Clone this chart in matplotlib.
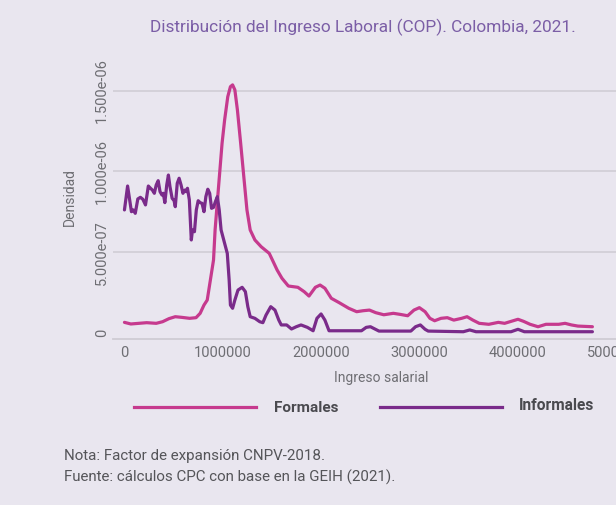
import matplotlib
matplotlib.use("Agg")
import matplotlib.pyplot as plt
from matplotlib.lines import Line2D

# income (millions of COP) and density (x1e-6)
inf_x = [0.0, 0.032, 0.071, 0.090, 0.110, 0.136, 0.162, 0.187, 0.214, 0.243, 0.265, 0.284,
         0.304, 0.323, 0.343, 0.362, 0.382, 0.395, 0.411, 0.430, 0.447, 0.463, 0.485, 0.505,
         0.517, 0.537, 0.556, 0.576, 0.595, 0.615, 0.628, 0.641, 0.660, 0.680, 0.692, 0.712,
         0.731, 0.750, 0.770, 0.789, 0.809, 0.828, 0.848, 0.867, 0.886, 0.906, 0.925, 0.945,
         0.964, 0.983, 1.019, 1.046, 1.065, 1.078, 1.100, 1.123, 1.155, 1.197, 1.230, 1.255,
         1.279, 1.327, 1.376, 1.408, 1.440, 1.488, 1.531, 1.570, 1.595, 1.650, 1.699, 1.748,
         1.796, 1.861, 1.919, 1.958, 2.000, 2.039, 2.081, 2.411, 2.459, 2.502, 2.547, 2.589,
         2.913, 2.961, 3.010, 3.058, 3.090, 3.447, 3.512, 3.576, 3.932, 4.003, 4.068, 4.760]
inf_y = [0.762, 0.910, 0.751, 0.762, 0.741, 0.830, 0.840, 0.828, 0.793, 0.910, 0.896, 0.885,
         0.865, 0.916, 0.943, 0.875, 0.854, 0.865, 0.807, 0.916, 0.978, 0.906, 0.834, 0.819,
         0.782, 0.927, 0.958, 0.916, 0.865, 0.885, 0.875, 0.896, 0.824, 0.576, 0.638, 0.627,
         0.762, 0.819, 0.807, 0.803, 0.751, 0.844, 0.890, 0.865, 0.772, 0.778, 0.813, 0.844,
         0.762, 0.638, 0.555, 0.493, 0.328, 0.173, 0.153, 0.204, 0.266, 0.283, 0.256, 0.163,
         0.101, 0.091, 0.070, 0.064, 0.111, 0.163, 0.142, 0.080, 0.050, 0.050, 0.025, 0.039,
         0.050, 0.035, 0.014, 0.091, 0.118, 0.080, 0.014, 0.014, 0.035, 0.039, 0.025, 0.012,
         0.012, 0.039, 0.050, 0.023, 0.012, 0.008, 0.019, 0.008, 0.008, 0.023, 0.008, 0.008]

for_x = [0.0, 0.065, 0.146, 0.226, 0.323, 0.388, 0.453, 0.517, 0.583, 0.663, 0.728, 0.770,
         0.809, 0.842, 0.874, 0.906, 0.922, 0.949, 0.971, 0.993, 1.019, 1.051, 1.078, 1.100,
         1.123, 1.149, 1.182, 1.214, 1.246, 1.279, 1.327, 1.391, 1.473, 1.505, 1.553, 1.602,
         1.667, 1.764, 1.828, 1.877, 1.942, 1.990, 2.039, 2.104, 2.184, 2.282, 2.362, 2.427,
         2.492, 2.556, 2.638, 2.735, 2.799, 2.881, 2.945, 3.000, 3.058, 3.107, 3.155, 3.220,
         3.284, 3.350, 3.430, 3.485, 3.544, 3.609, 3.706, 3.803, 3.867, 3.932, 4.003, 4.061,
         4.126, 4.207, 4.288, 4.352, 4.417, 4.482, 4.547, 4.612, 4.760]
for_y = [0.066, 0.056, 0.060, 0.064, 0.060, 0.070, 0.089, 0.101, 0.097, 0.091, 0.095, 0.122,
         0.173, 0.204, 0.328, 0.452, 0.638, 0.844, 1.009, 1.175, 1.319, 1.463, 1.525, 1.536,
         1.505, 1.381, 1.175, 0.968, 0.762, 0.638, 0.576, 0.534, 0.493, 0.452, 0.390, 0.339,
         0.291, 0.283, 0.256, 0.229, 0.283, 0.297, 0.277, 0.215, 0.188, 0.153, 0.132, 0.138,
         0.142, 0.126, 0.113, 0.122, 0.116, 0.107, 0.142, 0.157, 0.132, 0.091, 0.076, 0.091,
         0.095, 0.080, 0.091, 0.101, 0.080, 0.060, 0.054, 0.066, 0.060, 0.072, 0.085, 0.072,
         0.054, 0.039, 0.054, 0.054, 0.054, 0.060, 0.050, 0.043, 0.039]

x_ticks = [0, 1000000, 2000000, 3000000, 4000000, 5000000]
y_ticks = [0, 5e-7, 1e-6, 1.5e-6]

title = "Distribución del Ingreso Laboral (COP). Colombia, 2021."
nota = "Nota: Factor de expansión CNPV-2018."
fuente = "Fuente: cálculos CPC con base en la GEIH (2021)."

plt.rcParams["font.family"] = ["Roboto", "DejaVu Sans"]

bg = "#E9E6EF"
c_for = "#C63A8E"
c_inf = "#7A2B8A"
grey = "#6E6E73"

fig = plt.figure(figsize=(6.16, 5.05), dpi=100, facecolor=bg)
ax = fig.add_axes([113/616, 1-339/505, 1-113/616, (339-55)/505], facecolor=bg)

ax.plot([v*1e6 for v in for_x], [v*1e-6 for v in for_y], color=c_for, lw=2.3,
        solid_joinstyle="round", solid_capstyle="round", zorder=3)
ax.plot([v*1e6 for v in inf_x], [v*1e-6 for v in inf_y], color=c_inf, lw=2.3,
        solid_joinstyle="round", solid_capstyle="round", zorder=4)

ax.set_xlim(-0.1165e6, 4.767e6)
ax.set_ylim(-0.037e-6, 1.721e-6)
for s in ["top", "right", "left"]:
    ax.spines[s].set_visible(False)
ax.spines["bottom"].set_color("#CFCCD4")
ax.spines["bottom"].set_linewidth(1.3)
for v in y_ticks[1:]:
    ax.axhline(v, color="#D2CFD7", lw=1.3, zorder=1)

ax.set_xticks(x_ticks)
ax.set_xticklabels([str(v) for v in x_ticks])
ax.set_yticks(y_ticks)
ax.set_yticklabels(["0" if v == 0 else f"{v:.3e}" for v in y_ticks], rotation=90, va="center")
ax.tick_params(length=0, colors=grey, labelsize=10.5)
ax.tick_params(axis="x", pad=5)
ax.tick_params(axis="y", pad=3)

fig.text(70/616, 1-197/505, "Densidad", rotation=90, ha="center", va="center",
         color=grey, fontsize=10)
fig.text(381/616, 1-378/505, "Ingreso salarial", ha="center", va="center",
         color=grey, fontsize=10)
fig.text(363/616, 1-27/505, title, ha="center", va="center", color="#7B5EA6", fontsize=12.4)

# legend
fig.add_artist(Line2D([134/616, 256/616], [1-407/505]*2, color=c_for, lw=2.3))
fig.add_artist(Line2D([380/616, 502/616], [1-407/505]*2, color=c_inf, lw=2.3))
fig.text(274/616, 1-408/505, "Formales", ha="left", va="center", color="#4A4A4F",
         fontsize=11, fontweight="bold")
fig.text(519/616, 1-406/505, "Informales", ha="left", va="center", color="#4A4A4F",
         fontsize=11.2, fontweight="bold")

fig.text(64/616, 1-456/505, nota, ha="left", va="center", color="#555559", fontsize=10.9)
fig.text(64/616, 1-477/505, fuente, ha="left", va="center", color="#555559", fontsize=10.9)

fig.savefig("out.png", dpi=100, facecolor=bg)
